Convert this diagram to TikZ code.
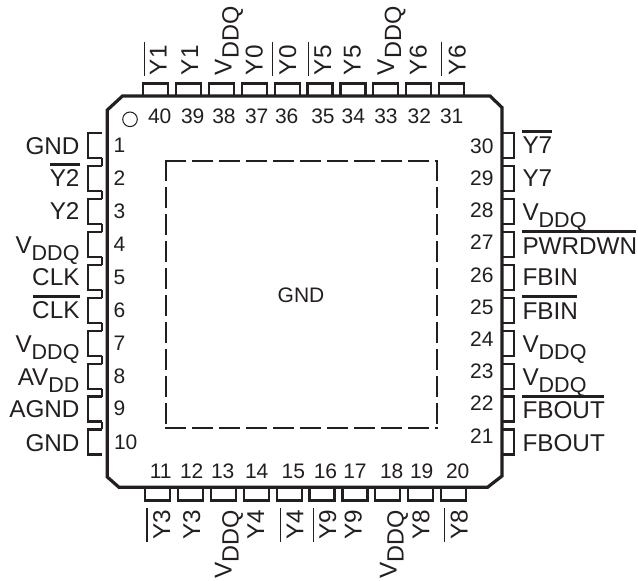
\documentclass[tikz,border=0pt]{standalone}
\usepackage{fontspec}
\setmainfont{Liberation Sans}
\definecolor{ink}{HTML}{231F20}
\newcommand{\lblfont}{\fontsize{24.3pt}{26pt}\selectfont}
\newcommand{\numfont}{\fontsize{21pt}{24pt}\selectfont}
\newcommand{\vddqh}{V\raisebox{-7pt}{\fontsize{21.5pt}{24pt}\selectfont DDQ}}
\newcommand{\vddqr}{V\raisebox{-7pt}{\fontsize{23.5pt}{24pt}\selectfont DDQ}}
\newcommand{\avdd}{AV\raisebox{-7pt}{\fontsize{21.5pt}{24pt}\selectfont DD}}
\tikzset{
  body/.style={line width=3.2pt,draw=ink,line join=miter},
  pin/.style={line width=2.2pt,draw=ink,line join=miter},
  pad/.style={line width=2.2pt,draw=ink,dash pattern=on 21pt off 6pt},
  lbl/.style={inner sep=0pt,outer sep=0pt,text=ink,font=\lblfont},
  num/.style={inner sep=0pt,outer sep=0pt,text=ink,font=\numfont},
  barh/.style={line width=3pt,draw=ink},
  barv/.style={line width=1.2pt,draw=ink},
}
\begin{document}
\begin{tikzpicture}[x=1pt,y=-1pt]
\useasboundingbox[fill=white] (0,0) rectangle (638,581);
% pins
\foreach \i in {0,...,9}{
  \pgfmathsetmacro{\t}{143+32.9*\i}
  \draw[pin] (\t,96) -- (\t,83.5) -- (\t+25,83.5) -- (\t+25,96);
  \pgfmathsetmacro{\b}{145+32.9*\i}
  \draw[pin] (\b,487) -- (\b,500.5) -- (\b+25,500.5) -- (\b+25,487);
  \pgfmathsetmacro{\r}{133.3+32.9*\i}
  \draw[pin] (501,\r) -- (514,\r) -- (514,\r+25) -- (501,\r+25);
  \pgfmathsetmacro{\l}{133.3+32.9*\i}
  \draw[pin] (102.3,\l) -- (88.3,\l) -- (88.3,\l+25) -- (102.3,\l+25);
}
\foreach \i in {0,...,8}{
  \pgfmathsetmacro{\l}{158.3+32.9*\i}
  \draw[pin] (102.3,\l) -- (102.3,\l+7.9);
}
% body
\draw[body] (122.5,96) -- (490,96) -- (502,107.5) -- (502,476) -- (487.5,487.3) -- (119,487.3) -- (107.3,477) -- (107.3,110) -- cycle;
\draw[pad] (165,160.7) -- (437.7,160.7);
\draw[pad] (436.7,160) -- (436.7,429.3);
\draw[pad] (166,160) -- (166,429.3);
\draw[pad] (165,428.3) -- (437.7,428.3);
\draw[line width=1pt,draw=ink] (130,119.3) circle (7.3);
\node[lbl,font=\fontsize{21pt}{24pt}\selectfont,anchor=base] (gndc) at (301,302.3) {GND};
% left labels
\node[lbl,anchor=base east] (l1) at (79.5,154) {GND};
\node[lbl,anchor=base east] (l2) at (79.5,186.7) {Y2};
\node[lbl,anchor=base east] (l3) at (79.5,219) {Y2};
\node[lbl,anchor=base east] (l4) at (79.5,253) {\vddqh};
\node[lbl,anchor=base east] (l5) at (79.5,285) {CLK};
\node[lbl,anchor=base east] (l6) at (79.5,318) {CLK};
\node[lbl,anchor=base east] (l7) at (79.5,352) {\vddqh};
\node[lbl,anchor=base east] (l8) at (79.5,385) {\avdd};
\node[lbl,anchor=base east] (l9) at (79.5,417.7) {AGND};
\node[lbl,anchor=base east] (l10) at (79.5,451.7) {GND};
\draw[barh] (50,164.7) -- (80,164.7);
\draw[barh] (33,296.7) -- (80,296.7);
% left numbers
\foreach \n [count=\k from 0] in {1,...,9}{
  \pgfmathsetmacro{\yy}{152.7+32.9*\k}
  \node[num,anchor=base west] (nl\n) at (113.5,\yy) {\n};
}
\node[num,anchor=base west] (nl10) at (114,449) {10};
% right numbers
\foreach \n [count=\k from 0] in {30,29,28,27,26,25,24,23,22,21}{
  \pgfmathsetmacro{\yy}{153.3+32.2*\k}
  \node[num,anchor=base east] (nr\n) at (493.5,\yy) {\n};
}
% right labels
\node[lbl,anchor=base west] (r30) at (522.5,153.3) {Y7};
\node[lbl,anchor=base west] (r29) at (522.5,186.7) {Y7};
\node[lbl,anchor=base west] (r28) at (522.5,220) {\vddqh};
\node[lbl,anchor=base west] (r27) at (522.5,254) {PWRDWN};
\node[lbl,anchor=base west] (r26) at (522.5,285.7) {FBIN};
\node[lbl,anchor=base west] (r25) at (522.5,319) {FBIN};
\node[lbl,anchor=base west] (r24) at (522.5,352) {\vddqh};
\node[lbl,anchor=base west] (r23) at (522.5,385) {\vddqh};
\node[lbl,anchor=base west] (r22) at (522.5,418) {FBOUT};
\node[lbl,anchor=base west] (r21) at (522.5,451.7) {FBOUT};
\draw[barh] (522,131.7) -- (551.7,131.7);
\draw[barh] (522,231) -- (636,231);
\draw[barh] (522,296.7) -- (577,296.7);
\draw[barh] (522,396) -- (604,396);
% top numbers
\foreach \n/\xx in {40/159.7,39/192.7,38/224,37/256.7,36/286.7,35/323,34/353.3,33/386,32/419.3,31/451.7}{
  \node[num,anchor=base] (nt\n) at (\xx,123.3) {\n};
}
% bottom numbers
\foreach \n/\xx in {11/160.7,12/191.7,13/222.7,14/256.7,15/293.3,16/325.5,17/355,18/391.7,19/421.7,20/457.7}{
  \node[num,anchor=base] (nb\n) at (\xx,478.3) {\n};
}
% top labels
\foreach \n/\xx/\txt in {40/166.7/Y1,39/198/Y1,38/231.7/\vddqr,37/262.7/Y0,36/296/Y0,35/331/Y5,34/360.7/Y5,33/394/\vddqr,32/426.7/Y6,31/465.7/Y6}{
  \node[lbl,rotate=90,anchor=base west] (t\n) at (\xx,75) {\txt};
}
\foreach \xx in {144.3,272.7,308.3,441.7}{
  \draw[barv] (\xx,41.7) -- (\xx,76);
}
% bottom labels
\foreach \n/\xx/\txt in {11/170/Y3,12/200/Y3,13/231.7/\vddqr,14/264/Y4,15/303.3/Y4,16/336/Y9,17/361.7/Y9,18/396.7/\vddqr,19/429.3/Y8,20/467.7/Y8}{
  \node[lbl,rotate=90,anchor=base east] (b\n) at (\xx,510) {\txt};
}
\foreach \xx in {147,280.3,313.3,444.3}{
  \draw[barv] (\xx,508) -- (\xx,541.7);
}
\end{tikzpicture}
\end{document}
